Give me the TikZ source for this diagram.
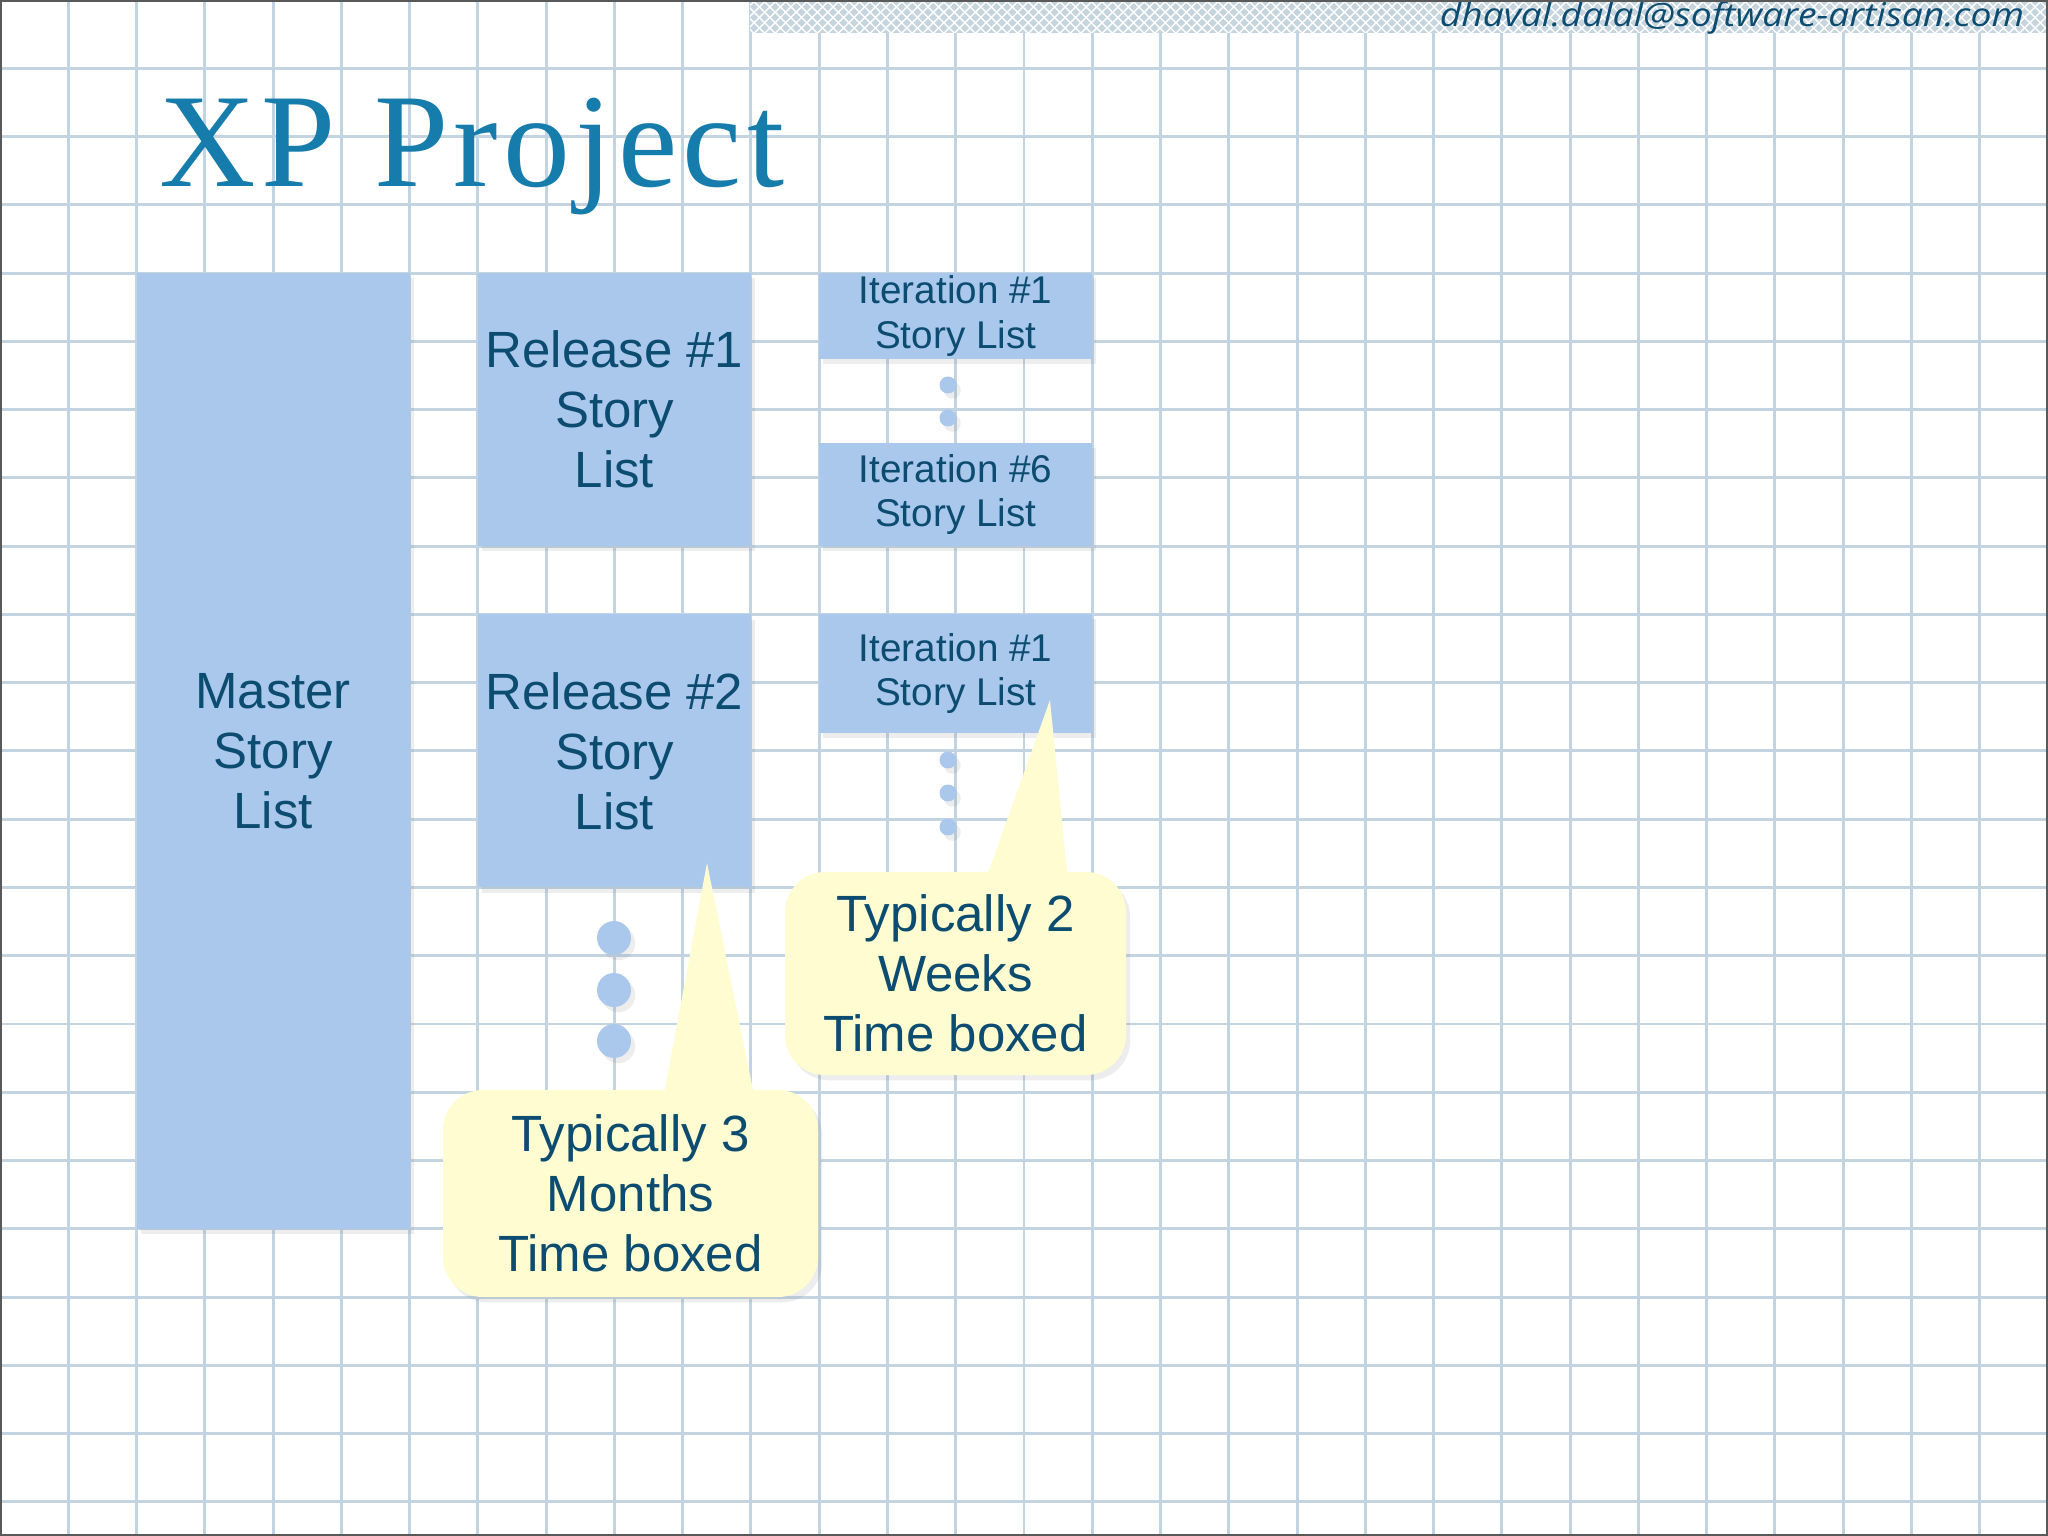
\documentclass[tikz,border=0pt]{standalone}
\usepackage{fontspec}
\setmainfont{Liberation Sans}
\newfontfamily\titlefont[LetterSpace=4]{Liberation Serif}
\newfontfamily\mailfont{Open Sans}
\usetikzlibrary{shadows,patterns}
\definecolor{gridblue}{RGB}{194,212,226}
\definecolor{boxblue}{RGB}{169,200,236}
\definecolor{inkblue}{RGB}{12,76,112}
\definecolor{titleblue}{RGB}{22,124,172}
\definecolor{noteyellow}{RGB}{254,252,208}
\definecolor{bandgrey}{RGB}{198,212,222}

\begin{document}
\begin{tikzpicture}[x=1cm, y=-1cm,
  gridline/.style={gridblue, line width=0.85pt},
  softshadow/.style={drop shadow={shadow xshift=1.2pt, shadow yshift=-1.5pt, opacity=0.14}},
  story/.style={fill=boxblue, text=inkblue, align=center, inner sep=0pt, minimum width=2.73cm, font=\fontsize{14.5}{17.1}\selectfont, softshadow},
  iter/.style={story, font=\fontsize{11}{12.8}\selectfont},
  dot/.style={circle, fill=boxblue, inner sep=0pt, minimum size=0.17cm, softshadow},
  bigdot/.style={dot, minimum size=0.34cm},
  note/.style={fill=noteyellow, text=inkblue, rounded corners=0.4cm, align=center, inner sep=0pt, font=\fontsize{14.5}{17.1}\selectfont, softshadow}
]
\useasboundingbox (0,0) rectangle (20.48,15.36);
\fill[white] (0,0) rectangle (20.48,15.36);
\foreach \i in {1,...,29} \draw[gridline] (\i*0.68267,0) -- (\i*0.68267,15.36);
\foreach \j in {1,...,22} \draw[gridline] (0,\j*0.68267) -- (20.48,\j*0.68267);

% header band
\fill[bandgrey] (7.5,0) rectangle (20.48,0.33);
\fill[pattern=crosshatch, pattern color=white] (7.5,0) rectangle (20.48,0.33);
\node[anchor=base east, inner sep=0pt, text=inkblue, xscale=1.14, transform shape, font=\mailfont\itshape\fontsize{9.3}{11}\selectfont] (mail) at (20.25,0.27) {dhaval.dalal@software-artisan.com};

\node[anchor=base west, inner sep=0pt, text=titleblue, font=\titlefont\fontsize{38}{40}\selectfont] (title) at (1.59,1.87) {XP Project};

% story lists
\node[story, minimum height=9.557cm] (master) at (2.731,7.509) {Master\\Story\\List};
\node[story, minimum height=2.73cm] (rel1) at (6.145,4.096) {Release \#1\\Story\\List};
\node[story, minimum height=2.73cm] (rel2) at (6.145,7.51) {Release \#2\\Story\\List};

\node[iter, minimum height=0.86cm] (it1) at (9.557,3.16) {Iteration \#1\\Story List};
\node[iter, minimum height=1.03cm] (it6) at (9.557,4.945) {Iteration \#6\\Story List};
\node[iter, minimum height=1.19cm] (it1b) at (9.557,6.735) {Iteration \#1\\Story List};

\node[dot] (da) at (9.48,3.85) {};
\node[dot] (db) at (9.48,4.18) {};
\node[dot] (dc) at (9.48,7.60) {};
\node[dot] (dd) at (9.48,7.93) {};
\node[dot] (de) at (9.48,8.27) {};

\node[bigdot] (ra) at (6.14,9.38) {};
\node[bigdot] (rb) at (6.14,9.90) {};
\node[bigdot] (rc) at (6.14,10.41) {};

% callouts
\node[note, minimum width=3.75cm, minimum height=2.07cm] (months) at (6.305,11.935) {Typically 3\\Months\\Time boxed};
\coordinate (monthstip) at (7.07,8.63);
\fill[noteyellow] ([xshift=0.325cm, yshift=-3pt]months.north) -- (monthstip) -- ([xshift=1.245cm, yshift=-3pt]months.north) -- cycle;

\node[note, minimum width=3.41cm, minimum height=2.03cm] (weeks) at (9.555,9.735) {Typically 2\\Weeks\\Time boxed};
\coordinate (weekstip) at (10.50,7.00);
\fill[noteyellow] ([xshift=0.295cm, yshift=-3pt]weeks.north) -- (weekstip) -- ([xshift=1.125cm, yshift=-3pt]weeks.north) -- cycle;

\draw[black!65, line width=1.2pt] (0,0) rectangle (20.48,15.36);
\end{tikzpicture}
\end{document}
